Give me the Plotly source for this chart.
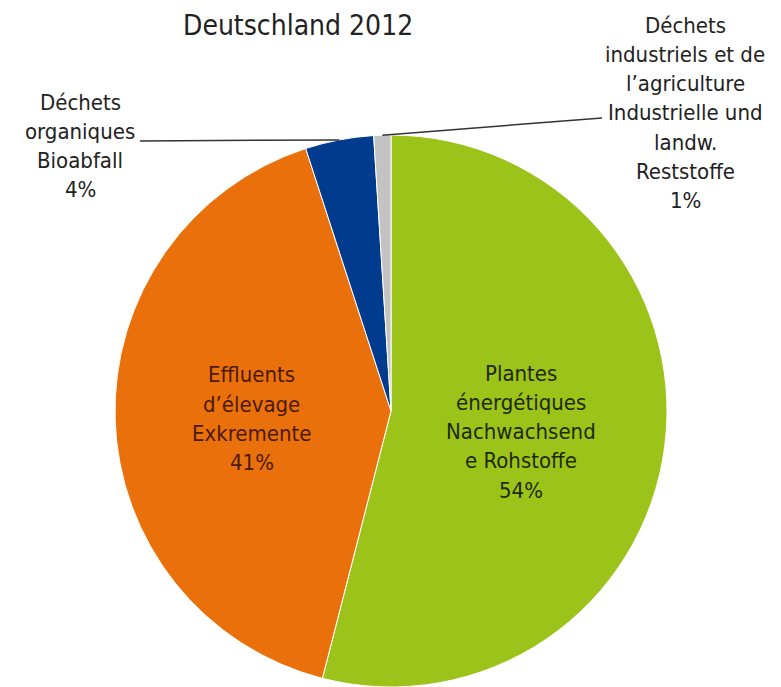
import math
import plotly.graph_objects as go

labels = ["Plantes énergétiques Nachwachsende Rohstoffe",
          "Effluents d’élevage Exkremente",
          "Déchets organiques Bioabfall",
          "Déchets industriels et de l’agriculture Industrielle und landw. Reststoffe"]
values = [54, 41, 4, 1]
colors = ["#9CC31A", "#EA700B", "#003B8E", "#C3C3C3"]
label_lines = [["Plantes", "énergétiques", "Nachwachsend", "e Rohstoffe", "54%"],
               ["Effluents", "d’élevage", "Exkremente", "41%"],
               ["Déchets", "organiques", "Bioabfall", "4%"],
               ["Déchets", "industriels et de", "l’agriculture", "Industrielle und", "landw.", "Reststoffe", "1%"]]
title_text = "Deutschland 2012"

W, H = 781, 687
OFF = 8  # page body margin
cx, cy, r = 391, 411, 276

def px(x):
    return (x - OFF) / W

def py(y):
    return 1 - (y - OFF) / H

fig = go.Figure(go.Pie(
    labels=labels, values=values, sort=False, direction="clockwise", rotation=0,
    marker=dict(colors=colors, line=dict(color="white", width=1)),
    textinfo="none", hoverinfo="label+percent", showlegend=False,
    domain=dict(x=[px(cx - r), px(cx + r)], y=[py(cy + r), py(cy - r)]),
))

font = "DejaVu Sans Condensed"
# (center x, first line y, colour)
label_pos = [(521, 373, "#1E2A00"), (252, 375, "#4A1A00"), (80, 102, "#222222"), (685, 25, "#222222")]
spacing = 29.3
anns = []
for (x, y0, c), lines in zip(label_pos, label_lines):
    for k, t in enumerate(lines):
        anns.append(dict(x=px(x), y=py(y0 + k * spacing), xref="paper", yref="paper", text=t,
                         showarrow=False, font=dict(family=font, size=22, color=c),
                         xanchor="center", yanchor="middle"))
anns.append(dict(x=px(298), y=py(25), xref="paper", yref="paper", text=title_text, showarrow=False,
                 font=dict(family=font, size=28, color="#222222"), xanchor="center", yanchor="middle"))

# leader lines from slice mid-angles
total = sum(values)
cum = 0
mids = []
for v in values:
    mids.append((cum + v / 2) / total * 2 * math.pi)
    cum += v
line_ends = {2: (140, 141), 3: (602, 118)}
shapes = []
for i, (ex, ey) in line_ends.items():
    a = mids[i]
    sx = cx + r * math.sin(a)
    sy = cy - r * math.cos(a)
    shapes.append(dict(type="line", xref="paper", yref="paper", x0=px(sx), y0=py(sy), x1=px(ex), y1=py(ey),
                       line=dict(color="#333333", width=1.5)))

fig.update_layout(width=W, height=H, margin=dict(l=0, r=0, t=0, b=0),
                  paper_bgcolor="white", plot_bgcolor="white",
                  annotations=anns, shapes=shapes)
fig.write_html("out.html")
